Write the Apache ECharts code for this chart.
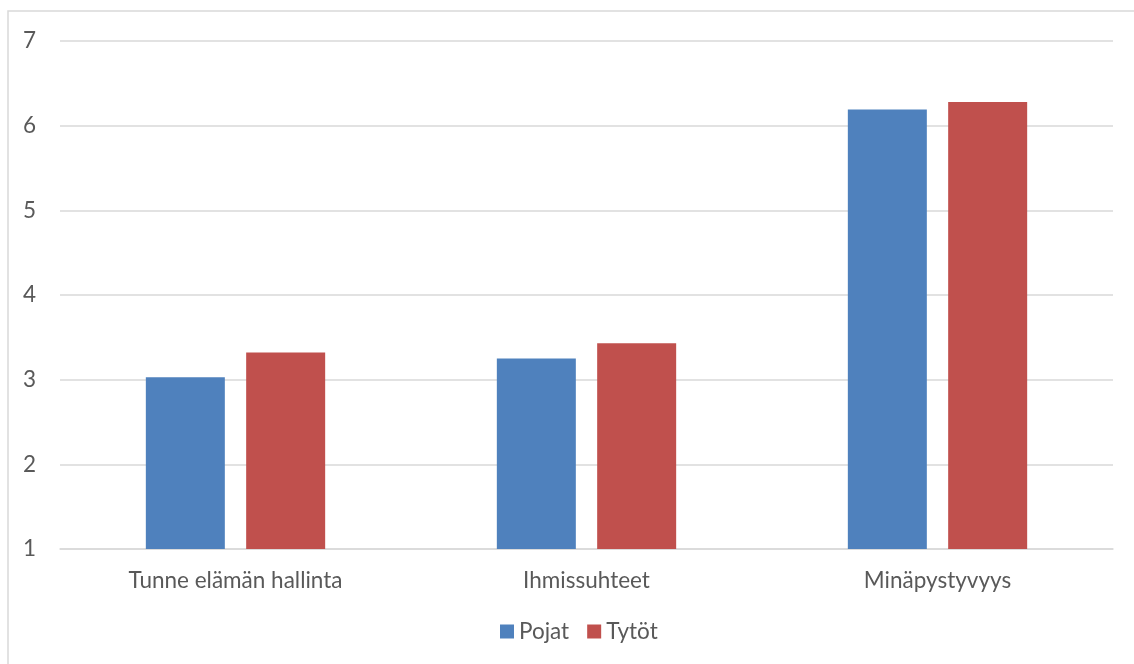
<!DOCTYPE html>
<html>
<head>
<meta charset="utf-8">
<script src="https://cdn.jsdelivr.net/npm/echarts@6/dist/echarts.min.js"></script>
<style>
    html, body { margin: 0; padding: 0; background: #fff; }
    #chart { width: 1134px; height: 664px; }
</style>
</head>
<body>
<div id="chart"></div>
<script>
    // values
    const categories = ["Tunne elämän hallinta", "Ihmissuhteet", "Minäpystyvyys"];
    const pojat = [3.03, 3.25, 6.19];
    const tytot = [3.32, 3.43, 6.28];
    const yTicks = { min: 1, max: 7, interval: 1 };

    const textColor = "#595959";
    const fontFamily = "Lato, sans-serif";
    const fontSize = 22.5;

    const chart = echarts.init(document.getElementById("chart"), null, { renderer: "canvas" });

    chart.setOption({
        animation: false,
        backgroundColor: "#fff",
        graphic: [{
            type: "rect",
            shape: { x: 8, y: 11, width: 1140, height: 700 },
            style: { fill: "none", stroke: "#d9d9d9", lineWidth: 1.5 },
            silent: true
        }],
        grid: { left: 60, right: 21, top: 41, bottom: 115, containLabel: false },
        legend: {
            bottom: 16,
            left: 495,
            itemWidth: 14,
            itemHeight: 14,
            itemGap: 18,
            icon: "rect",
            textStyle: { color: textColor, fontSize: fontSize, fontFamily: fontFamily, padding: [0, 0, 0, 0] },
            data: ["Pojat", "Tytöt"]
        },
        xAxis: {
            type: "category",
            data: categories,
            axisLine: { lineStyle: { color: "#d9d9d9", width: 1.5 } },
            axisTick: { show: false },
            axisLabel: { color: textColor, fontSize: fontSize, fontFamily: fontFamily, margin: 20 }
        },
        yAxis: {
            type: "value",
            min: yTicks.min,
            max: yTicks.max,
            interval: yTicks.interval,
            axisLine: { show: false },
            axisTick: { show: false },
            axisLabel: { color: textColor, fontSize: fontSize, fontFamily: fontFamily, margin: 24 },
            splitLine: { lineStyle: { color: "#d9d9d9", width: 1.5 } }
        },
        series: [
            {
                name: "Pojat",
                type: "bar",
                data: pojat,
                barWidth: 79,
                barGap: "27%",
                itemStyle: { color: "#4f81bd" }
            },
            {
                name: "Tytöt",
                type: "bar",
                data: tytot,
                barWidth: 79,
                itemStyle: { color: "#c0504d" }
            }
        ]
    });
</script>
</body>
</html>
